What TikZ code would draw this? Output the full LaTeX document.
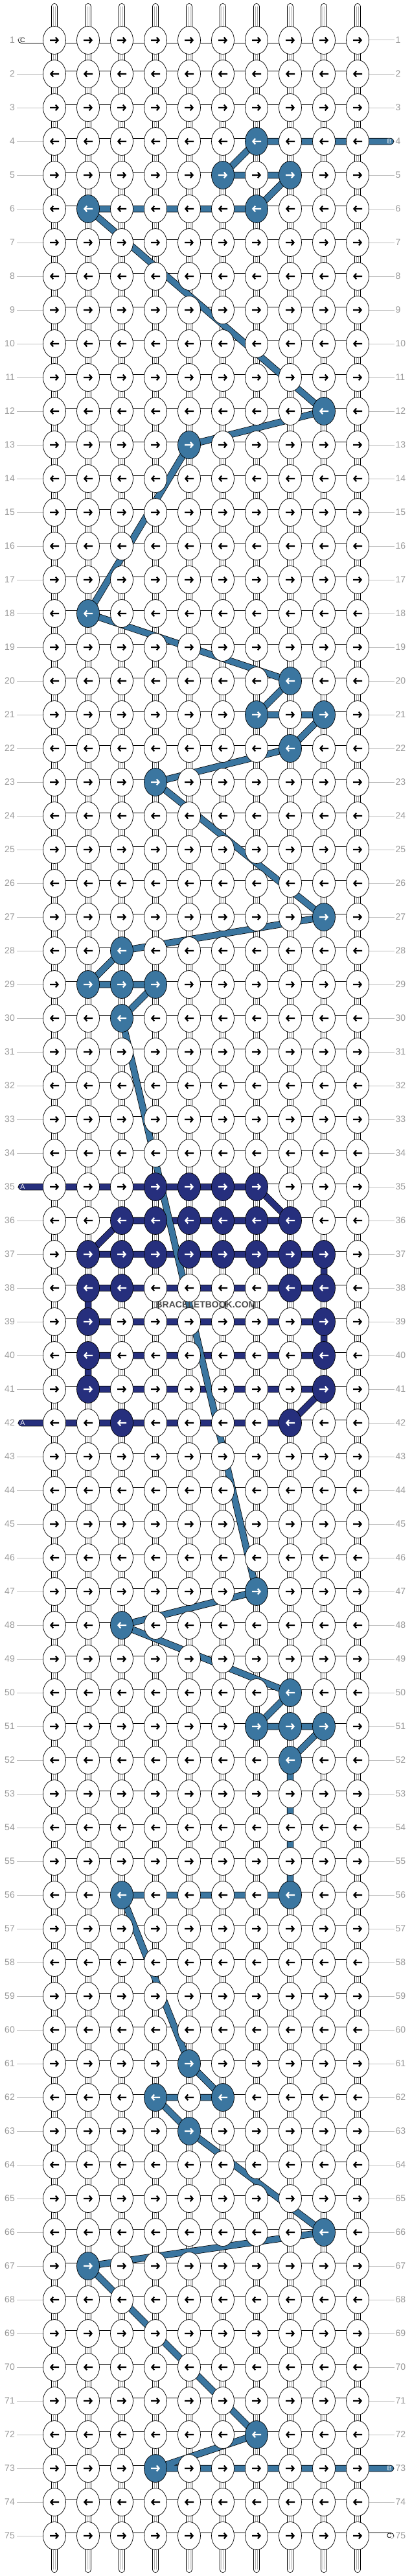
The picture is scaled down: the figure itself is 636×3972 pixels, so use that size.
\documentclass[tikz,border=0pt]{standalone}
\usepackage{fontspec}
\setmainfont{Liberation Sans}
\usetikzlibrary{shapes.geometric}
\definecolor{thrA}{HTML}{262F7D}
\definecolor{thrB}{HTML}{3B76A0}
\definecolor{lblgray}{HTML}{9A9A9A}
\definecolor{linegray}{HTML}{BDBDBD}
\definecolor{warpgray}{HTML}{B0B0B0}
\definecolor{wmgray}{HTML}{4D4D4D}
\pgfdeclarelayer{bgfill}
\pgfdeclarelayer{warp}
\pgfdeclarelayer{bands}
\pgfdeclarelayer{over}
\pgfsetlayers{bgfill,warp,bands,main,over}
\tikzset{
  knot/.style={ellipse, draw=black, line width=0.7pt, minimum width=35pt, minimum height=43pt, inner sep=0pt},
  arrw/.style={line width=2.2pt, line cap=butt, line join=miter},
  hconn/.style={draw=black, line width=0.75pt, double=white, double distance=9pt},
  tube/.style={hconn, line cap=round},
  bandB/.style={draw=black, line width=0.75pt, double=thrB, double distance=9pt, line join=round, line cap=round},
  bandA/.style={draw=black, line width=0.75pt, double=thrA, double distance=9pt, line join=round, line cap=round},
  warpst/.style={draw=black, line width=0.75pt, double=white, double distance=8.5pt, line cap=round},
  warpln/.style={draw=warpgray, line width=0.5pt},
  gline/.style={draw=linegray, line width=1pt},
  rowlbl/.style={text=lblgray, font=\fontsize{14}{14}\selectfont, inner ysep=0pt},
  endlbl/.style={font=\fontsize{10.5}{10.5}\selectfont, inner sep=0pt},
  wmark/.style={text=wmgray, font=\bfseries\fontsize{14}{14}\selectfont, inner sep=0pt}
}
\foreach \p/\q in {4/7,5/6,5/8,6/2,6/7,12/9,13/5,18/2,20/8,21/7,21/9,22/8,23/4,27/9,28/3,29/2,29/3,29/4,30/3,47/7,48/3,50/8,51/7,51/8,51/9,52/8,56/3,56/8,61/5,62/4,62/6,63/5,66/9,67/2,72/7,73/4}{\expandafter\xdef\csname kc-\p-\q\endcsname{thrB}}
\foreach \p/\q in {35/4,35/5,35/6,35/7,36/3,36/4,36/5,36/6,36/7,36/8,37/2,37/3,37/4,37/5,37/6,37/7,37/8,37/9,38/2,38/3,38/8,38/9,39/2,39/9,40/2,40/9,41/2,41/9,42/3,42/8}{\expandafter\xdef\csname kc-\p-\q\endcsname{thrA}}
\begin{document}
\begin{tikzpicture}[x=1pt,y=-1pt]
\useasboundingbox (0,0) rectangle (636,3972);
\begin{pgfonlayer}{bgfill}
\fill[white] (0,0) rectangle (636,3972);
\end{pgfonlayer}
% knots
\foreach \ri in {1,...,75}{
  \pgfmathtruncatemacro{\yy}{10+52*\ri}
  \foreach \ci in {1,...,10}{
    \pgfmathtruncatemacro{\xx}{32+52*\ci}
    \ifcsname kc-\ri-\ci\endcsname
      \edef\kf{\csname kc-\ri-\ci\endcsname}\def\ac{white}%
    \else
      \def\kf{white}\def\ac{black}%
    \fi
    \node[knot, fill=\kf] (k\ri-\ci) at (\xx,\yy) {};
    \ifodd\ri
      \draw[arrw, draw=\ac] (\xx-7,\yy) -- (\xx+5,\yy) (\xx+1.8,\yy-4.4) -- (\xx+5.6,\yy) -- (\xx+1.8,\yy+4.4);
    \else
      \draw[arrw, draw=\ac] (\xx+7,\yy) -- (\xx-5,\yy) (\xx-1.8,\yy-4.4) -- (\xx-5.6,\yy) -- (\xx-1.8,\yy+4.4);
    \fi
  }
  \node[rowlbl, anchor=east, inner xsep=3pt] (ll\ri) at (26,\yy) {\ri};
  \node[rowlbl, anchor=west, inner xsep=2pt] (rl\ri) at (608.5,\yy) {\ri};
}
% warps, row lines, white connectors
\begin{pgfonlayer}{warp}
\foreach \ci in {1,...,10}{
  \pgfmathtruncatemacro{\xx}{32+52*\ci}
  \coordinate (wt\ci) at (\xx,10);
  \coordinate (wb\ci) at (\xx,3962);
  \draw[warpst] (wt\ci) -- (wb\ci);
  \draw[warpln] ([xshift=-1.7pt]wt\ci) -- ([xshift=-1.7pt]wb\ci);
  \draw[warpln] ([xshift=1.7pt]wt\ci) -- ([xshift=1.7pt]wb\ci);
}
\foreach \ri in {1,...,75}{
  \draw[gline] (ll\ri) -- (k\ri-1);
  \draw[gline] (k\ri-10) -- (rl\ri);
  \foreach \ci in {1,...,9}{
    \pgfmathtruncatemacro{\cn}{\ci+1}
    \draw[hconn] (k\ri-\ci.center) -- (k\ri-\cn.center);
  }
}
\end{pgfonlayer}
% threads
\begin{pgfonlayer}{bands}
\coordinate (Cin) at (33,62);
\coordinate (Cout) at (603,3910);
\draw[tube] (Cin) -- (k1-1.center);
\draw[tube] (k75-10.center) -- (Cout);
\coordinate (Ain) at (33,1830);
\coordinate (Aout) at (33,2194);
\draw[bandA] (Ain) -- (k35-7.center) -- (k36-8.center) -- (k36-3.center) -- (k37-2.center) -- (k37-9.center) -- (k38-9.center) -- (k38-2.center) -- (k39-2.center) -- (k39-9.center) -- (k40-9.center) -- (k40-2.center) -- (k41-2.center) -- (k41-9.center) -- (k42-8.center) -- (Aout);
\coordinate (Bin) at (603,218);
\coordinate (Bout) at (603,3806);
\draw[bandB] (Bin) -- (k4-7.center) -- (k5-6.center) -- (k5-8.center) -- (k6-7.center) -- (k6-2.center) -- (k12-9.center) -- (k13-5.center) -- (k18-2.center) -- (k20-8.center) -- (k21-7.center) -- (k21-9.center) -- (k22-8.center) -- (k23-4.center) -- (k27-9.center) -- (k28-3.center) -- (k29-2.center) -- (k29-4.center) -- (k30-3.center) -- (k47-7.center) -- (k48-3.center) -- (k50-8.center) -- (k51-7.center) -- (k51-9.center) -- (k52-8.center) -- (k56-8.center) -- (k56-3.center) -- (k61-5.center) -- (k62-6.center) -- (k62-4.center) -- (k63-5.center) -- (k66-9.center) -- (k67-2.center) -- (k72-7.center) -- (k73-4.center) -- (Bout);
\end{pgfonlayer}
% labels on thread ends and watermark
\begin{pgfonlayer}{over}
\node[endlbl] (tC1) at (35,62) {C};
\node[endlbl] (tC2) at (601,3910) {C};
\node[endlbl, text=white] (tB1) at (601,218) {B};
\node[endlbl, text=white] (tB2) at (601,3806) {B};
\node[endlbl, text=white] (tA1) at (35,1830) {A};
\node[endlbl, text=white] (tA2) at (35,2194) {A};
\node[wmark] (wm) at (318,2012) {BRACELETBOOK.COM};
\end{pgfonlayer}
\end{tikzpicture}
\end{document}
